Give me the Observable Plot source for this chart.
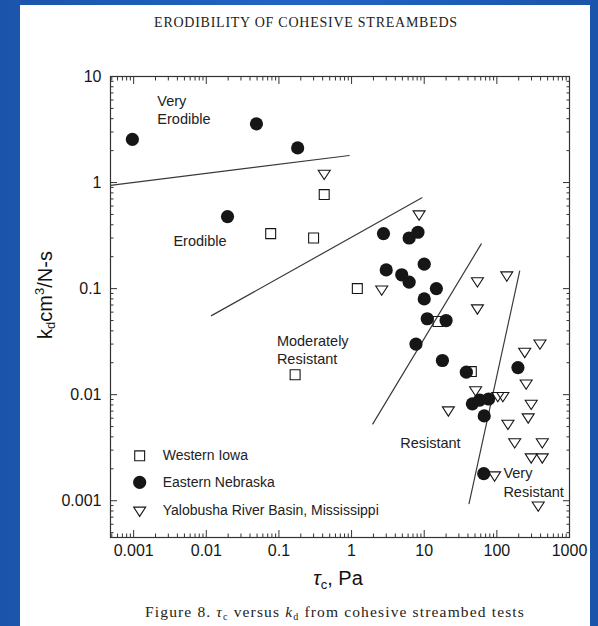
<!DOCTYPE html>
<html><head><meta charset="utf-8">
<script src="https://cdn.jsdelivr.net/npm/d3@7"></script>
<script src="https://cdn.jsdelivr.net/npm/@observablehq/plot@0.6"></script>
<style>
body{margin:0;width:598px;height:626px;overflow:hidden;position:relative;background:linear-gradient(90deg,#1b55ab 0%,#2165c4 50%,#1b55ab 100%);font-family:"Liberation Sans",Arial,sans-serif}
#panel{position:absolute;left:20px;top:5px;width:570px;height:621px;background:#fff}
#title{position:absolute;left:100px;width:412px;top:15px;text-align:center;font-family:"Liberation Serif",serif;font-size:14px;letter-spacing:0.75px;color:#222;white-space:nowrap}
#chart{position:absolute;left:0;top:0}
#ylab{position:absolute;left:45px;top:295px;transform:translate(-50%,-50%) rotate(-90deg);font-size:20px;color:#111;white-space:nowrap}
#ylab sub{font-size:13px;vertical-align:-3px;line-height:0}
#ylab sup{font-size:13px;vertical-align:8px;line-height:0}
#xlab{position:absolute;left:238px;width:200px;top:567px;text-align:center;font-size:20px;color:#111;white-space:nowrap}
#xlab sub{font-size:13px;vertical-align:-4px;line-height:0}
#caption{position:absolute;left:100px;width:470px;top:603px;text-align:center;font-family:"Liberation Serif",serif;font-size:15.5px;letter-spacing:1.15px;color:#222;white-space:nowrap}
#caption sub{font-size:10px;vertical-align:-3px;line-height:0}
</style></head>
<body>
<div id="panel"></div>
<div id="title">ERODIBILITY OF COHESIVE STREAMBEDS</div>
<div id="chart"></div>
<div id="ylab">k<sub>d</sub>cm<sup>3</sup>/N-s</div>
<div id="xlab"><i>τ</i><sub>c</sub>, Pa</div>
<div id="caption">Figure 8. <i>τ</i><sub>c</sub> versus <i>k</i><sub>d</sub> from cohesive streambed tests</div>
<script>
// ---- data (tau_c in Pa, k_d in cm3/N-s) ----
const iowaTau = [0.42, 0.077, 0.30, 1.2, 0.167, 15.5, 44.5];
const iowaKd  = [0.77, 0.33, 0.30, 0.10, 0.0154, 0.049, 0.0165];

const nebraskaTau = [0.00096, 0.049, 0.181, 0.0196, 2.75, 6.2, 8.2, 10, 3.0, 4.9, 6.2, 14.7, 10, 11, 20, 7.7, 17.8, 38, 195, 46, 58, 77, 67, 66];
const nebraskaKd  = [2.55, 3.58, 2.12, 0.478, 0.33, 0.30, 0.34, 0.17, 0.15, 0.135, 0.115, 0.10, 0.08, 0.052, 0.050, 0.030, 0.021, 0.0163, 0.018, 0.0082, 0.0089, 0.0091, 0.0063, 0.0018];

const yalobushaTau = [0.42, 8.5, 2.6, 54, 54, 137, 242, 392, 253, 297, 270, 142, 176, 422, 297, 422, 93, 371, 51, 103, 121, 21.5];
const yalobushaKd  = [1.21, 0.5, 0.098, 0.117, 0.065, 0.133, 0.0253, 0.0303, 0.0127, 0.0082, 0.0061, 0.0053, 0.00355, 0.00355, 0.00256, 0.00256, 0.00173, 0.0009, 0.011, 0.0097, 0.0097, 0.0071];

// class boundaries (segment endpoints)
const boundarySeg = ["a", "a", "b", "b", "c", "c", "d", "d"];
const boundaryTau = [0.00048, 0.93, 0.0118, 9.3, 1.96, 61, 41.4, 206];
const boundaryKd  = [0.94, 1.8, 0.0556, 0.718, 0.0053, 0.264, 0.00094, 0.146];

// class labels
const regionText = ["Very\nErodible", "Erodible", "Moderately\nResistant", "Resistant", "Very\nResistant"];
const regionTau  = [0.00212, 0.00353, 0.0937, 4.67, 123];
const regionKd   = [4.96, 0.284, 0.027, 0.00355, 0.00151];

// legend
const legendNames = ["Western Iowa", "Eastern Nebraska", "Yalobusha River Basin, Mississippi"];
const legendKd = [0.00265, 0.00149, 0.000805];
const legendMarkTau = 0.00121;
const legendTextTau = 0.00251;

// ticks
const xTicks = [0.001, 0.01, 0.1, 1, 10, 100, 1000];
const xTickLabels = ["0.001", "0.01", "0.1", "1", "10", "100", "1000"];
const yTicks = [0.001, 0.01, 0.1, 1, 10];
const yTickLabels = ["0.001", "0.01", "0.1", "1", "10"];

const xDomain = [0.00048, 1000];
const yDomain = [0.00045, 10];

function minorTicks(domain) {
  const out = [];
  for (let e = -5; e <= 3; e++) for (let k = 2; k <= 9; k++) {
    const v = k * Math.pow(10, e);
    if (v >= domain[0] && v <= domain[1]) out.push(v);
  }
  return out;
}
const xMinor = minorTicks(xDomain);
const yMinor = minorTicks(yDomain);

const toRows = (xs, ys) => xs.map((x, i) => ({tau: x, kd: ys[i]}));
const iowa = toRows(iowaTau, iowaKd);
const nebraska = toRows(nebraskaTau, nebraskaKd);
const yalobusha = toRows(yalobushaTau, yalobushaKd);
const boundaries = boundaryTau.map((x, i) => ({tau: x, kd: boundaryKd[i], seg: boundarySeg[i]}));
const regions = regionText.map((t, i) => ({t, tau: regionTau[i], kd: regionKd[i]}));
const legend = legendNames.map((n, i) => ({n, kd: legendKd[i], tau: legendMarkTau, tauText: legendTextTau}));

const triDown = {
  draw(ctx, size) {
    const r = Math.sqrt(size / Math.PI);
    ctx.moveTo(-r, -0.6 * r);
    ctx.lineTo(r, -0.6 * r);
    ctx.lineTo(0, 0.95 * r);
    ctx.closePath();
  }
};

const ink = "#161616";
const tickMarks = [];
for (const anchor of ["bottom", "top"]) {
  tickMarks.push(Plot.axisX(xTicks, {anchor, tickSize: -7, fill: "none", stroke: "#333", label: null}));
  tickMarks.push(Plot.axisX(xMinor, {anchor, tickSize: -3.5, fill: "none", stroke: "#333", label: null}));
}
for (const anchor of ["left", "right"]) {
  tickMarks.push(Plot.axisY(yTicks, {anchor, tickSize: -7, fill: "none", stroke: "#333", label: null}));
  tickMarks.push(Plot.axisY(yMinor, {anchor, tickSize: -3.5, fill: "none", stroke: "#333", label: null}));
}

const chart = Plot.plot({
  width: 598,
  height: 600,
  marginLeft: 110,
  marginRight: 29,
  marginTop: 76,
  marginBottom: 63,
  x: {type: "log", domain: xDomain},
  y: {type: "log", domain: yDomain},
  style: {fontFamily: "Liberation Sans, Arial, sans-serif", color: ink, background: "transparent", overflow: "visible"},
  marks: [
    ...tickMarks,
    Plot.axisX(xTicks, {anchor: "bottom", tickSize: 0, tickPadding: 7, fontSize: 16, tickFormat: d => xTickLabels[xTicks.indexOf(d)], label: null, fill: ink}),
    Plot.axisY(yTicks, {anchor: "left", tickSize: 0, tickPadding: 9, fontSize: 16, tickFormat: d => yTickLabels[yTicks.indexOf(d)], label: null, fill: ink}),
    Plot.frame({stroke: "#333", strokeWidth: 1.2}),
    Plot.line(boundaries, {x: "tau", y: "kd", z: "seg", stroke: "#3a3a3a", strokeWidth: 1.2}),
    Plot.text(regions, {x: "tau", y: "kd", text: "t", textAnchor: "start", lineAnchor: "middle", lineHeight: 1.25, fontSize: 14.5, fill: "#222"}),
    Plot.dot(iowa, {x: "tau", y: "kd", symbol: "square", r: 5.6, stroke: ink, strokeWidth: 1.1, fill: "none"}),
    Plot.dot(yalobusha, {x: "tau", y: "kd", symbol: triDown, r: 6, stroke: ink, strokeWidth: 1.1, fill: "none"}),
    Plot.dot(nebraska, {x: "tau", y: "kd", symbol: "circle", r: 6.6, fill: ink, stroke: "none"}),
    Plot.dot(legend.slice(0, 1), {x: "tau", y: "kd", symbol: "square", r: 5.6, stroke: ink, strokeWidth: 1.1, fill: "none"}),
    Plot.dot(legend.slice(1, 2), {x: "tau", y: "kd", symbol: "circle", r: 6.6, fill: ink, stroke: "none"}),
    Plot.dot(legend.slice(2, 3), {x: "tau", y: "kd", symbol: triDown, r: 6, stroke: ink, strokeWidth: 1.1, fill: "none"}),
    Plot.text(legend, {x: "tauText", y: "kd", text: "n", textAnchor: "start", fontSize: 14, fill: "#222"})
  ]
});
document.getElementById("chart").appendChild(chart);
</script>
</body></html>
